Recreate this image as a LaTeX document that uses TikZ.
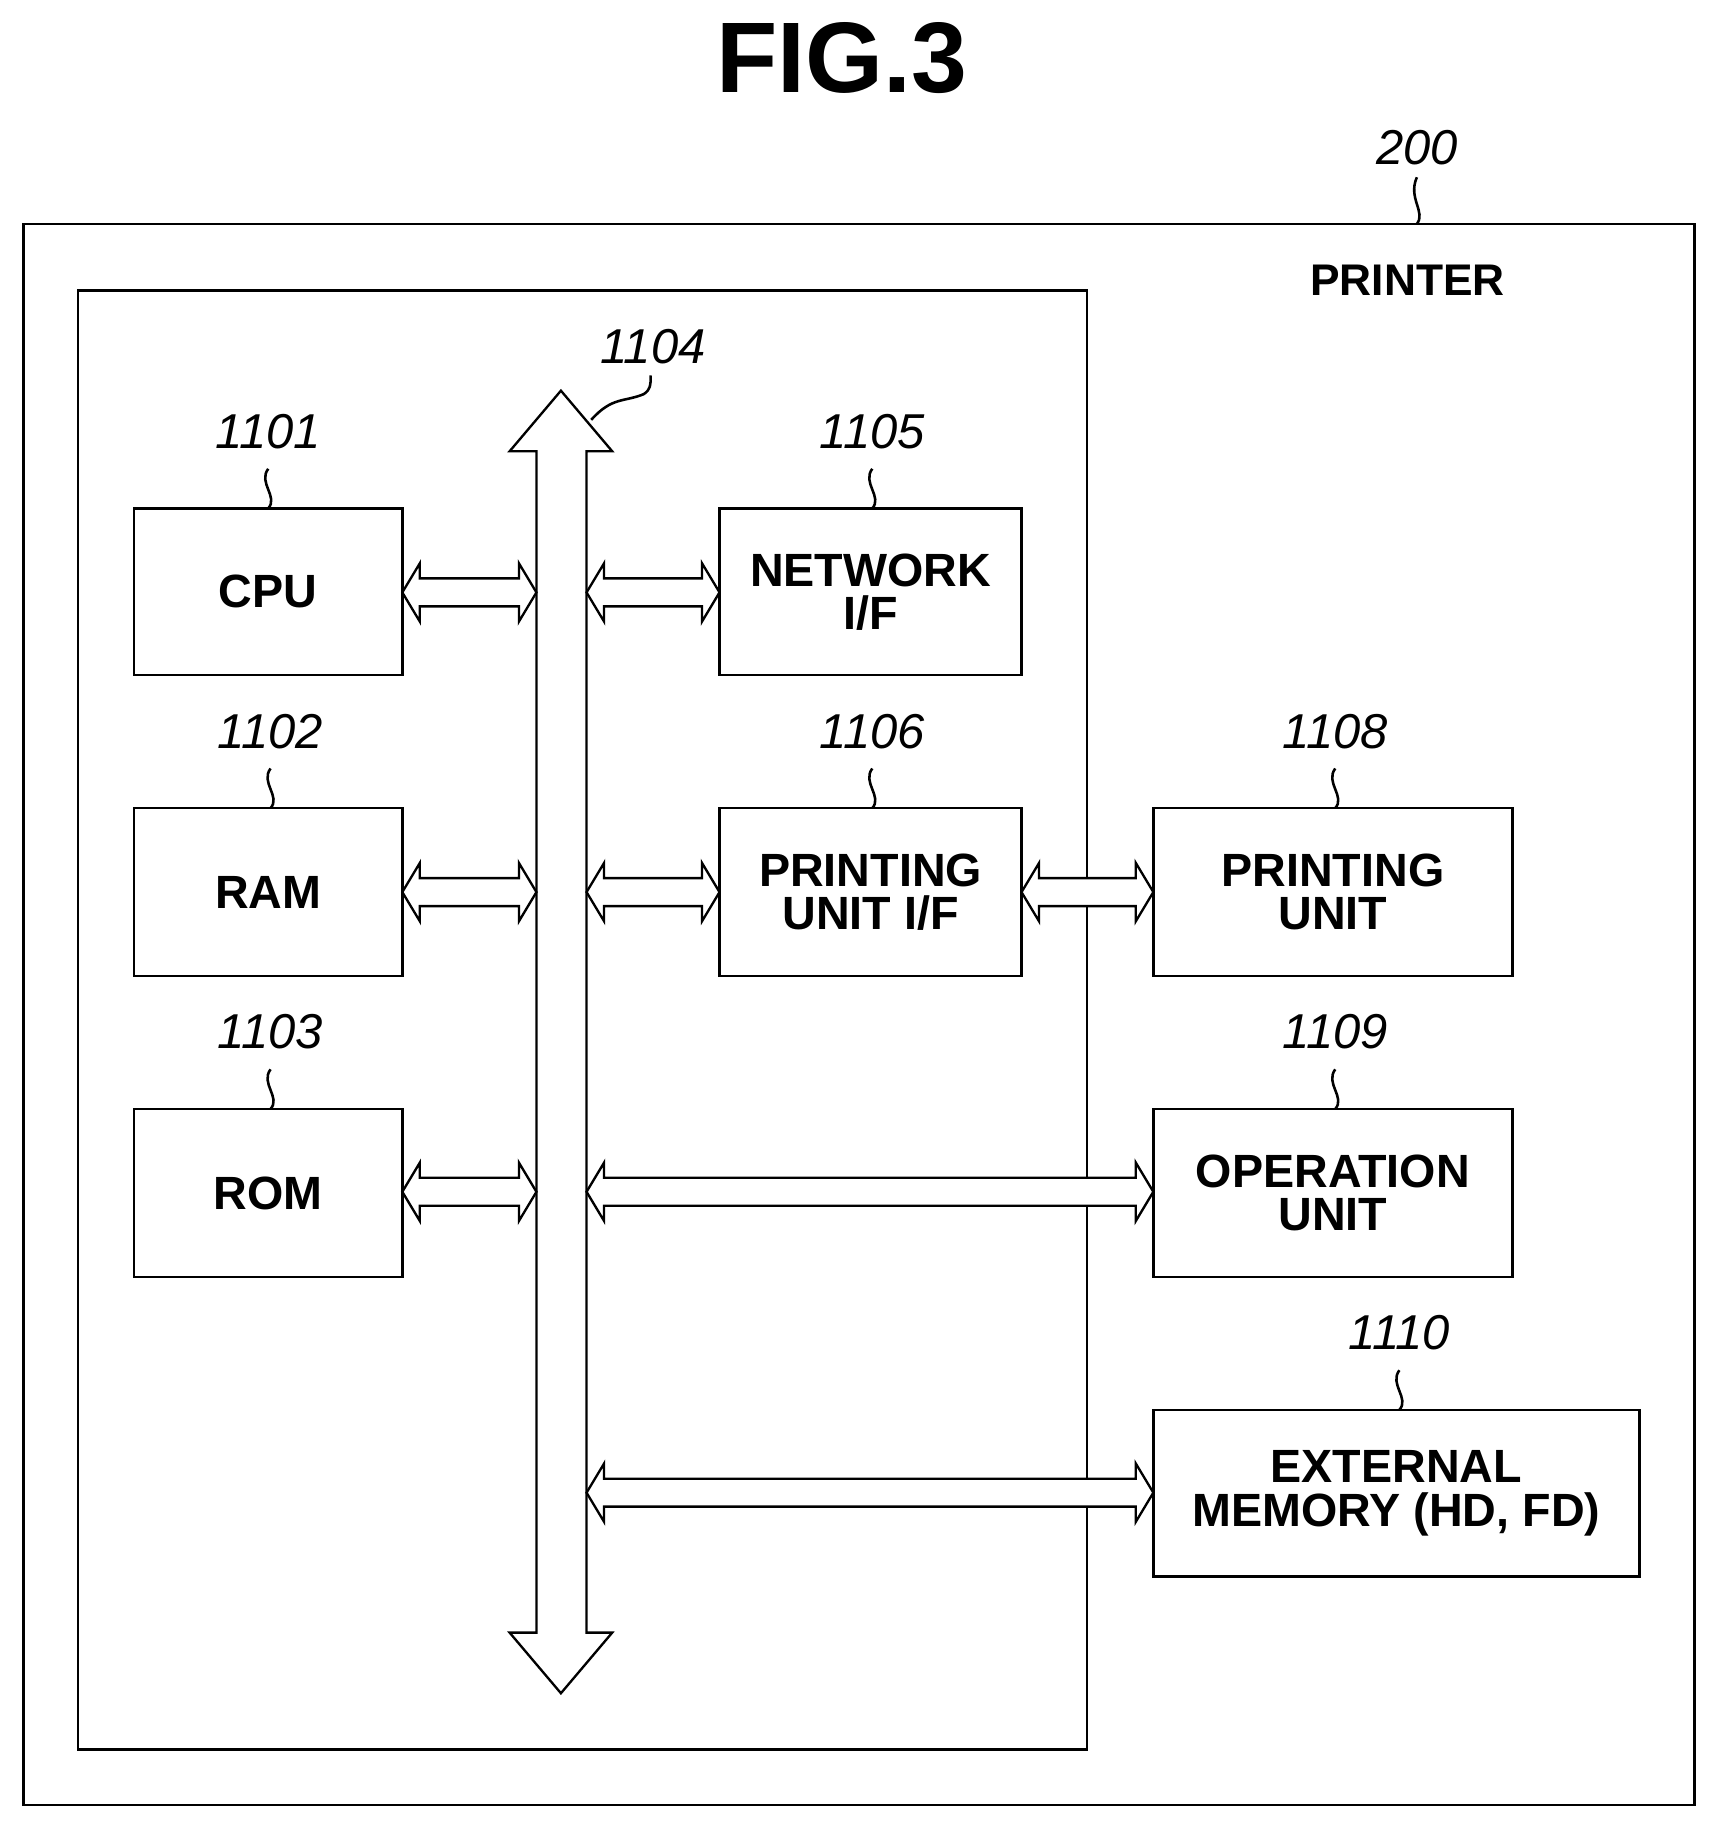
\documentclass[tikz,border=0pt]{standalone}
\usepackage{fontspec}
\setmainfont{Liberation Sans}
\begin{document}
\begin{tikzpicture}[x=1pt,y=-1pt,line width=2.2pt,
  box/.style={draw,rectangle,inner sep=0pt,align=center,font=\fontsize{40}{37}\selectfont\bfseries},
  lab/.style={font=\fontsize{42}{42}\selectfont\itshape},
  arr/.style={draw,fill=white,line width=2pt,line join=miter}]
\useasboundingbox (0,0) rectangle (1470,1565);
\node[font=\fontsize{86}{86}\selectfont\bfseries] (title) at (722,50) {FIG.3};
\draw (20,192) rectangle (1453,1548);
\node[lab] (l200) at (1215,127) {200};
\draw (1215,192) .. controls (1223,182) and (1207,170) .. (1215,152);
\node[font=\fontsize{38}{38}\selectfont\bfseries] (printer) at (1207,240) {PRINTER};
\draw (67,249) rectangle (932,1500);
% bus
\draw[arr] (481,335) -- (525,387) -- (503,387) -- (503,1400) -- (525,1400) -- (481,1452) -- (437,1400) -- (460,1400) -- (460,387) -- (437,387) -- cycle;
\node[lab] (l1104) at (560,297) {1104};
\draw (507,360) .. controls (525,340) and (535,345) .. (552,338) .. controls (558,334) and (558,330) .. (558,322);
% boxes
\newcommand\mybox[6]{\node[box,minimum width=#4-#2,minimum height=#5-#3] (#1) at ({(#2+#4)/2},{(#3+#5)/2}) {#6};}
\mybox{cpu}{115}{436}{345}{579}{CPU}
\mybox{ram}{115}{693}{345}{837}{RAM}
\mybox{rom}{115}{951}{345}{1095}{ROM}
\mybox{net}{617}{436}{876}{579}{NETWORK\\I/F}
\mybox{puif}{617}{693}{876}{837}{PRINTING\\UNIT I/F}
\mybox{pu}{989}{693}{1297}{837}{PRINTING\\UNIT}
\mybox{op}{989}{951}{1297}{1095}{OPERATION\\UNIT}
\mybox{ext}{989}{1209}{1406}{1352}{EXTERNAL\\MEMORY (HD, FD)}
% labels with leaders
\newcommand\myref[3]{\node[lab] at (#2,{#3-66}) {#1};
  \draw (#2,#3) .. controls ({#2+9},{#3-10}) and ({#2-9},{#3-22}) .. (#2,{#3-34});}
\myref{1101}{230}{436}
\myref{1102}{232}{693}
\myref{1103}{232}{951}
\myref{1105}{748}{436}
\myref{1106}{748}{693}
\myref{1108}{1145}{693}
\myref{1109}{1145}{951}
\myref{1110}{1200}{1209}
% double arrows
\newcommand\harr[3]{\draw[arr] (#1,#3) -- ({#1+15},{#3-25}) -- ({#1+15},{#3-12}) -- ({#2-15},{#3-12}) -- ({#2-15},{#3-25}) -- (#2,#3) -- ({#2-15},{#3+25}) -- ({#2-15},{#3+12}) -- ({#1+15},{#3+12}) -- ({#1+15},{#3+25}) -- cycle;}
\harr{345}{460}{508}
\harr{345}{460}{765}
\harr{345}{460}{1022}
\harr{503}{617}{508}
\harr{503}{617}{765}
\harr{876}{989}{765}
\harr{503}{989}{1022}
\harr{503}{989}{1280}
\end{tikzpicture}
\end{document}
